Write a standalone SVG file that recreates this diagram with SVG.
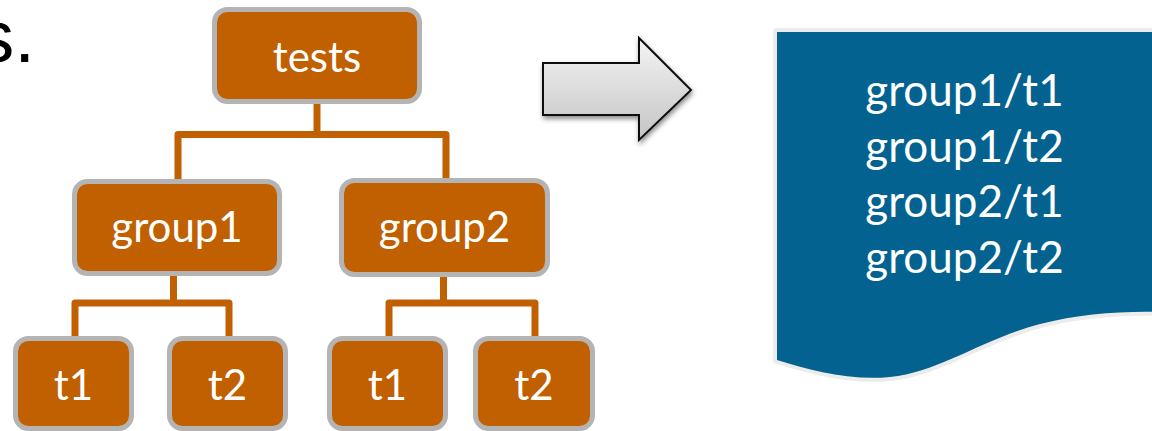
<svg xmlns="http://www.w3.org/2000/svg" width="1152" height="431" viewBox="0 0 1152 431">
<defs>
<linearGradient id="arrowGrad" x1="0" y1="0" x2="0" y2="1">
<stop offset="0" stop-color="#f4f4f4"/>
<stop offset="1" stop-color="#c4c4c4"/>
</linearGradient>
<filter id="shadow" x="-20%" y="-20%" width="140%" height="150%">
<feDropShadow dx="1" dy="3" stdDeviation="2.5" flood-color="#000" flood-opacity="0.45"/>
</filter>
</defs>
<style>
.box{fill:#c06000;stroke:#b4b4b4;stroke-width:5}
.lbl{font-family:Lato,"Open Sans",sans-serif;font-size:42px;fill:#ffffff;text-anchor:middle}
.doc{font-size:44px}
.conn{fill:none;stroke:#c06000;stroke-width:7;stroke-linejoin:round}
</style>
<rect width="1152" height="431" fill="#ffffff"/>
<text x="35" y="62" font-family="Liberation Sans, Arial, sans-serif" font-size="75" fill="#000000" text-anchor="end">s.</text>
<g id="connectors">
<path class="conn" d="M317,104 V134.5"/>
<path class="conn" d="M178,181 V134.5 H446 V180"/>
<path class="conn" d="M173.5,276 V303"/>
<path class="conn" d="M75,338 V303 H229 V338"/>
<path class="conn" d="M443.5,277 V303"/>
<path class="conn" d="M389,338 V303 H535 V338"/>
</g>
<g id="node-tests">
<rect class="box" x="214.5" y="9.5" width="205" height="92" rx="13"/>
<text class="lbl" x="317" y="72">tests</text>
</g>
<g id="node-group1">
<rect class="box" x="74.5" y="181.5" width="205" height="92" rx="13"/>
<text class="lbl" x="177" y="242">group1</text>
</g>
<g id="node-group2">
<rect class="box" x="341.5" y="180.5" width="206" height="94" rx="13"/>
<text class="lbl" x="444.5" y="242">group2</text>
</g>
<g id="node-g1-t1">
<rect class="box" x="15.5" y="338.5" width="116" height="90" rx="13"/>
<text class="lbl" x="73.5" y="400">t1</text>
</g>
<g id="node-g1-t2">
<rect class="box" x="169.5" y="338.5" width="116" height="90" rx="13"/>
<text class="lbl" x="227.5" y="400">t2</text>
</g>
<g id="node-g2-t1">
<rect class="box" x="329.5" y="338.5" width="116" height="90" rx="13"/>
<text class="lbl" x="387.5" y="400">t1</text>
</g>
<g id="node-g2-t2">
<rect class="box" x="475.5" y="338.5" width="117" height="90" rx="13"/>
<text class="lbl" x="534" y="400">t2</text>
</g>
<g id="arrow">
<polygon points="543,63 639,63 639,38 691,90 639,140 639,115 543,115" fill="url(#arrowGrad)" stroke="#111111" stroke-width="2" stroke-linejoin="miter" filter="url(#shadow)"/>
</g>
<g id="node-output">
<path d="M777,32 H1160 V312 C1120,311 1080,314 1040,324 C980,340 940,372 890,377 C850,381 810,370 777,360 Z" fill="#03628f" stroke="#ececec" stroke-width="8" paint-order="stroke" stroke-linejoin="round"/>
<text class="lbl doc" x="964.5" y="106">group1/t1</text>
<text class="lbl doc" x="964.5" y="162">group1/t2</text>
<text class="lbl doc" x="964.5" y="217">group2/t1</text>
<text class="lbl doc" x="964.5" y="273">group2/t2</text>
</g>
</svg>
